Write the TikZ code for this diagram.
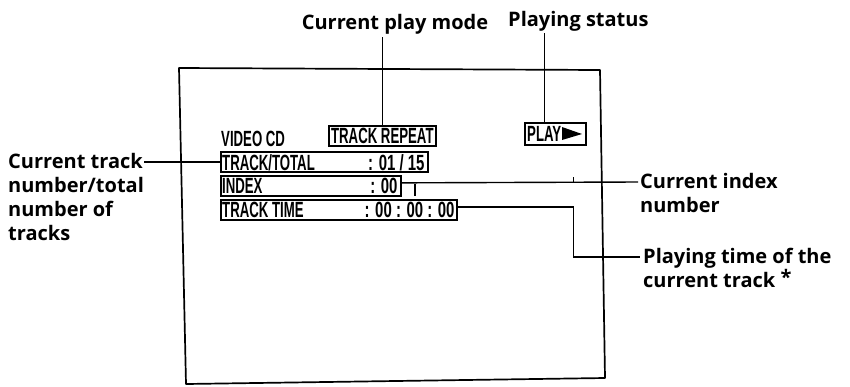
\documentclass[tikz,border=0pt]{standalone}
\usepackage{fontspec}
\setmainfont{Open Sans}
\newfontfamily\scrfont[FakeStretch=0.6]{Liberation Sans}
\newfontfamily\valfont[FakeStretch=0.68]{Liberation Sans}
\begin{document}
\begin{tikzpicture}[x=1pt,y=-1pt,
  lab/.style={font=\fontsize{20}{24}\selectfont\bfseries, inner sep=0pt},
  scrbox/.style={draw, line width=1.7pt, inner sep=0pt, anchor=north west},
  scrtxt/.style={font=\scrfont\bfseries\fontsize{22}{22}\selectfont, inner sep=0pt},
  valtxt/.style={font=\valfont\bfseries\fontsize{22}{22}\selectfont, inner sep=0pt},
  lead/.style={line width=1.4pt}]
\useasboundingbox (0,0) rectangle (850,386);
% screen outline
\draw[line width=1.7pt, line join=round] (179,68) -- (600,70) -- (605,378) -- (186,384) -- cycle;
% screen contents
\node[scrtxt, anchor=west] (vcd) at (221,139) {VIDEO CD};
\node[scrbox, minimum width=107, minimum height=20] (rep) at (328,125) {};
\node[scrtxt] (rept) at ([yshift=-0.5]rep.center) {TRACK REPEAT};
\node[scrbox, minimum width=61, minimum height=22] (play) at (524,122) {};
\node[scrtxt, anchor=west] (playt) at ([xshift=3,yshift=-0.5]play.west) {PLAY};
\fill (562,127) -- (582,134) -- (562,140) -- cycle;
\node[scrbox, minimum width=207, minimum height=20] (tt) at (220,151) {};
\node[scrtxt, anchor=west] (ttl) at ([xshift=2,yshift=-0.5]tt.west) {TRACK/TOTAL};
\node[valtxt, anchor=east] (ttv) at ([xshift=-4,yshift=-0.5]tt.east) {: 01 / 15};
\node[scrbox, minimum width=180, minimum height=20] (ind) at (220,175) {};
\node[scrtxt, anchor=west] (indl) at ([xshift=2,yshift=-0.5]ind.west) {INDEX};
\node[valtxt, anchor=east] (indv) at ([xshift=-4,yshift=-0.5]ind.east) {: 00};
\node[scrbox, minimum width=236, minimum height=20] (tim) at (220,199) {};
\node[scrtxt, anchor=west] (timl) at ([xshift=2,yshift=-0.5]tim.west) {TRACK TIME};
\node[valtxt, anchor=east] (timv) at ([xshift=-3,yshift=-0.5]tim.east) {: 00 : 00 : 00};
% small marks
\draw[line width=1.6pt] (415,184) -- (415,196);
\draw[line width=1pt] (573,177) -- (573,182);
% labels
\node[lab, anchor=base] (cpm) at (395,29) {Current play mode};
\node[lab, anchor=base west] (ps) at (508,26) {Playing status};
\node[lab, anchor=base west] (ct) at (8,168) {Current track};
\node[lab, anchor=base west] (ct2) at (8,192) {number/total};
\node[lab, anchor=base west] (ct3) at (8,216) {number of};
\node[lab, anchor=base west] (ct4) at (8,240) {tracks};
\node[lab, anchor=base west] (ci) at (640,188) {Current index};
\node[lab, anchor=base west] (ci2) at (640,212) {number};
\node[lab, anchor=base west] (pt) at (643,263) {Playing time of the};
\node[lab, anchor=base west] (pt2) at (643,287) {current track};
\node[lab] (star) at (786,277) {*};
% connectors
\draw[lead] (rep.north) -- (rep.north |- 0,37);
\draw[lead] ([xshift=-11]play.north) -- ([xshift=-11]play.north |- 0,33);
\draw[lead] ([xshift=1]ct.east |- tt.west) -- (tt.west);
\draw[lead] ([yshift=3]ind.east) -- ([xshift=-2]ci.west |- 0,182);
\draw[lead] ([yshift=3]tim.east) -- ++(116,0) |- ([xshift=-3]pt.west |- 0,257);
\end{tikzpicture}
\end{document}
